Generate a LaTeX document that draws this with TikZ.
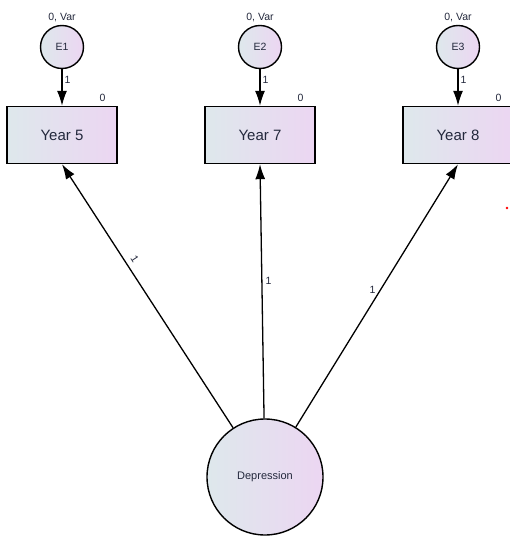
\documentclass[tikz,border=0pt]{standalone}
\usepackage{fontspec}
\setmainfont{Liberation Sans}
\usepackage{tikz}
\usetikzlibrary{calc, arrows.meta, shapes}
\definecolor{fillA}{RGB}{222,232,236}
\definecolor{fillB}{RGB}{236,214,242}
\definecolor{txt}{RGB}{35,40,60}
\tikzset{>=latex}

\begin{document}
\begin{tikzpicture}[
    x = 1pt, y = -1pt,
    obs/.style = {draw, line width = 1.4pt, rectangle, minimum width = 110pt, minimum height = 57pt, inner sep = 0pt, left color = fillA, right color = fillB, text = txt, font = \fontsize{15}{15}\selectfont},
    err/.style = {draw, line width = 1.4pt, circle, minimum size = 43pt, inner sep = 0pt, left color = fillA, right color = fillB, text = txt, font = \fontsize{10.5}{10.5}\selectfont},
    lat/.style = {draw, line width = 1.4pt, circle, minimum size = 116pt, inner sep = 0pt, left color = fillA, right color = fillB, text = txt, font = \fontsize{11}{11}\selectfont},
    d1/.style = {line width = 1.3pt, -{Latex[length=15pt, width=10pt]}},
    wt/.style = {font = \fontsize{10.5}{10.5}\selectfont, text = txt, inner sep = 1pt},
]

\clip (0,0) rectangle (510,537);

% observed
\node[obs] (y5) at (62,135) {Year 5};
\node[obs] (y7) at (260,135) {Year 7};
\node[obs] (y8) at (458,135) {Year 8};

% errors
\node[err] (e1) at (62,47) {E1};
\node[err] (e2) at (260,47) {E2};
\node[err] (e3) at (458,47) {E3};

\node[wt, anchor=south] (v1) at ([yshift=2pt]e1.north) {0, Var};
\node[wt, anchor=south] (v2) at ([yshift=2pt]e2.north) {0, Var};
\node[wt, anchor=south] (v3) at ([yshift=2pt]e3.north) {0, Var};

\node[wt, anchor=south east] (m5) at ($(y5.north east)+(-11,-3)$) {0};
\node[wt, anchor=south east] (m7) at ($(y7.north east)+(-11,-3)$) {0};
\node[wt, anchor=south east] (m8) at ($(y8.north east)+(-11,-3)$) {0};

% latent
\node[lat] (dep) at (265,477) {Depression};

\draw[d1] (e1) -- node[wt, pos=0.3, anchor=west, xshift=1pt] {1} (y5);
\draw[d1] (e2) -- node[wt, pos=0.3, anchor=west, xshift=1pt] {1} (y7);
\draw[d1] (e3) -- node[wt, pos=0.3, anchor=west, xshift=1pt] {1} (y8);

\draw[d1] (dep) -- node[wt, pos=0.62, sloped, above, yshift=4pt] {1} (y5.south);
\draw[d1] (dep) -- node[wt, pos=0.54, right, xshift=2pt] {1} (y7.south);
\draw[d1] (dep) -- node[wt, pos=0.52, left, xshift=-3pt] {1} (y8.south);

\fill[red] (507,208) circle (1.3);

\end{tikzpicture}
\end{document}
